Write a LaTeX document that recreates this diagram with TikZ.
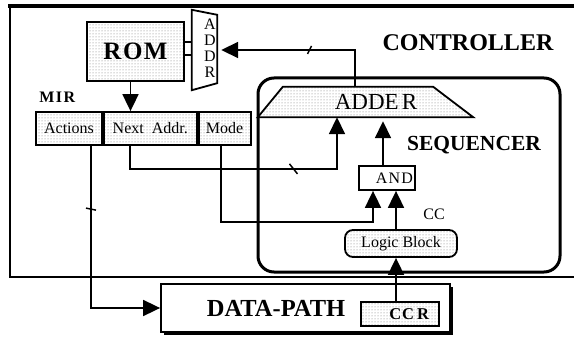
\documentclass[tikz,border=0pt]{standalone}
\usepackage{fontspec}
\setmainfont{Liberation Serif}
\usetikzlibrary{arrows.meta,patterns,positioning,shadows}

\begin{document}
\begin{tikzpicture}[x=1pt,y=-1pt,
    box/.style={draw, line width=1.8pt, inner sep=0pt},
    dotbox/.style={box, pattern=dots, pattern color=black!55},
    arr/.style={-{Triangle[width=16pt,length=17pt]}, line width=1.8pt},
    tick/.style={line width=1.5pt},
    big/.style={font=\bfseries\fontsize{24}{24}\selectfont},
    txt/.style={font=\fontsize{16}{16}\selectfont, inner sep=0pt}]
  \useasboundingbox (0,0) rectangle (574,337);

  % controller frame
  \draw[line width=3.5pt] (8.2,6) -- (574,6);
  \draw[line width=2pt] (10,6) -- (10,277) -- (574,277);
  \node[big] (ctrl) at (468,43) {CONTROLLER};

  % sequencer
  \node[draw, line width=3pt, rounded corners=16pt, minimum width=302pt,
        minimum height=194pt] (seq) at (409,175) {};
  \node[font=\bfseries\fontsize{21.5}{21.5}\selectfont] (seqlbl) at (474,145) {SEQUENCER};

  % ROM and address register
  \node[dotbox, minimum width=97pt, minimum height=59pt,
        font=\bfseries\fontsize{25}{25}\selectfont] (rom) at (135.5,51.5) {R\kern1.5pt O\kern1.5pt M};
  \node[minimum width=25pt, minimum height=80pt, inner sep=0pt] (addr) at (204.5,50) {};
  \draw[line width=1.8pt] (addr.north west) -- ([yshift=-5pt]addr.north east)
    -- ([yshift=7pt]addr.south east) -- (addr.south west) -- cycle;
  \node[align=center, inner sep=0pt, font=\fontsize{16}{16}\selectfont] (addrlbl) at (210,48) {A\\D\\D\\R};
  \draw[line width=1.8pt] ([yshift=9.5pt]rom.east) -- ([yshift=9.5pt]rom.east -| addr.west);
  \draw[line width=1.8pt] ([yshift=-3.5pt]rom.east) -- ([yshift=-3.5pt]rom.east -| addr.west);

  % MIR
  \node[dotbox, txt, minimum width=66pt, minimum height=33pt] (act) at (69,128.5) {Actions};
  \node[dotbox, txt, minimum width=93pt, minimum height=33pt, right=0pt of act] (nxt) {Next\enspace Addr.};
  \node[dotbox, txt, minimum width=52pt, minimum height=33pt, right=0pt of nxt] (mode) {Mode};
  \node[font=\bfseries\fontsize{16}{16}\selectfont, anchor=south west, inner sep=0pt]
    (mir) at ([xshift=4pt,yshift=8pt]act.north west) {M\kern1.5pt I\kern1.5pt R};

  % adder
  \node[minimum width=215pt, minimum height=30pt, inner sep=0pt] (adder) at (365.5,102) {};
  \draw[dotbox] (adder.south west) -- ([xshift=25pt]adder.north west)
    -- ([xshift=-40pt]adder.north east) -- (adder.south east) -- cycle;
  \node[font=\fontsize{23}{23}\selectfont] (adderlbl) at (376,102) {ADDE\kern3pt R};

  % AND, logic block
  \node[box, txt, minimum width=56pt, minimum height=24pt, text width=52pt,
        align=right] (andg) at (387,178) {A\kern1.2pt N\kern1.2pt D};
  \node[dotbox, txt, rounded corners=8pt, minimum width=112pt, minimum height=27pt]
    (logic) at (401,243.5) {Logic Block};
  \node[txt] (cc) at (434,214) {CC};

  % data path
  \node[box, fill=white, drop shadow={shadow xshift=3pt, shadow yshift=-3pt, fill=black, opacity=1},
        minimum width=289pt, minimum height=48pt] (dp) at (305.5,308) {};
  \node[font=\bfseries\fontsize{24.5}{24.5}\selectfont] (dplbl) at (276,308) {DATA-PATH};
  \node[dotbox, font=\bfseries\fontsize{16.5}{16.5}\selectfont, minimum width=78pt, minimum height=24pt,
        text width=58pt, align=right] (ccr) at (400,314) {C\kern1pt C\kern3pt R};

  % connectors
  \draw[arr] ([xshift=-5pt]rom.south) -- ([xshift=-5pt]rom.south |- nxt.north);
  \draw[arr] (355,0 |- adder.north) |- coordinate[pos=0.67] (tk1) ([xshift=4pt]addr.east);
  \draw[tick] (tk1) ++(-2,4) -- ++(4,-8);
  \draw[arr] ([xshift=-20.5pt]nxt.south) -- ++(0,23) -| coordinate[pos=0.395] (tk2) (337,0 |- adder.south);
  \draw[tick] (tk2) ++(-4,-5) -- ++(8,10);
  \draw[arr] ([xshift=-4pt]mode.south) -- ++(0,76) -| ([xshift=-14pt]andg.south);
  \draw[arr] ([xshift=9pt]andg.south |- logic.north) -- ([xshift=9pt]andg.south);
  \draw[arr, shorten >=4pt] ([xshift=-4pt]andg.north) -- ([xshift=-4pt]andg.north |- adder.south);
  \draw[arr] ([xshift=-4pt]ccr.north) -- ([xshift=-4pt]ccr.north |- logic.south);
  \draw[arr] ([xshift=22pt]act.south) |- coordinate[pos=0.195] (tk3) (dp.west);
  \draw[tick] (tk3) ++(-5,-1) -- ++(10,2);
\end{tikzpicture}
\end{document}
